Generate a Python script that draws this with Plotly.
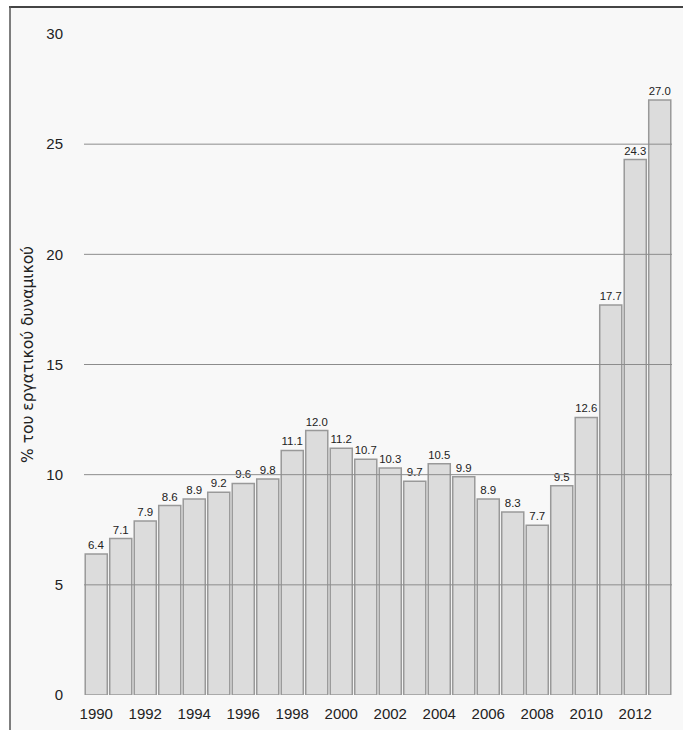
import plotly.graph_objects as go

years = list(range(1990, 2014))
values = [6.4, 7.1, 7.9, 8.6, 8.9, 9.2, 9.6, 9.8, 11.1, 12.0, 11.2, 10.7,
          10.3, 9.7, 10.5, 9.9, 8.9, 8.3, 7.7, 9.5, 12.6, 17.7, 24.3, 27.0]
labels = [f"{v:.1f}" for v in values]
x_ticks = list(range(1990, 2013, 2))
y_ticks = [0, 5, 10, 15, 20, 25, 30]
grid_values = [5, 10, 15, 20, 25]
y_title = "% του εργατικού δυναμικού"

W, H = 683, 730
L, R, T, B = 84, 11, 34, 35
pw, ph = W - L - R, H - T - B

def px_x(p):
    return (p - L) / pw

def px_y(p):
    return (H - B - p) / ph

fig = go.Figure()
fig.add_trace(go.Bar(
    x=years, y=values,
    text=labels, textposition="outside",
    textfont=dict(family="Liberation Sans, Arial, sans-serif", size=11.5, color="#222222"),
    marker=dict(color="#dcdcdc", line=dict(color="#999999", width=1.5)),
    cliponaxis=False,
    hoverinfo="x+y",
))

shapes = [
    dict(type="rect", xref="paper", yref="paper",
         x0=px_x(10), x1=px_x(700), y0=px_y(750), y1=px_y(7),
         fillcolor="#f8f8f8", line=dict(width=0), layer="below"),
    dict(type="line", xref="paper", yref="paper",
         x0=px_x(9), x1=px_x(683), y0=px_y(7), y1=px_y(7),
         line=dict(color="#444444", width=2), layer="above"),
    dict(type="line", xref="paper", yref="paper",
         x0=px_x(10), x1=px_x(10), y0=px_y(730), y1=px_y(6),
         line=dict(color="#555555", width=1.5), layer="above"),
]
for v in grid_values:
    shapes.append(dict(type="line", xref="paper", yref="y", x0=0, x1=1, y0=v, y1=v,
                       line=dict(color="#8c8c8c", width=1), layer="above"))

fig.update_layout(
    width=W, height=H,
    margin=dict(l=L, r=R, t=T, b=B, autoexpand=False),
    paper_bgcolor="white",
    plot_bgcolor="#f3f3f3",
    bargap=0.1,
    showlegend=False,
    shapes=shapes,
    font=dict(family="Liberation Sans, Arial, sans-serif", color="#222222"),
    annotations=[dict(text=y_title, textangle=-90, xref="paper", yref="paper",
                      x=px_x(28), y=px_y(355), xanchor="center", yanchor="middle",
                      showarrow=False,
                      font=dict(family="DejaVu Sans, sans-serif", size=15.5, color="#222222"))],
    xaxis=dict(
        tickmode="array", tickvals=x_ticks, ticktext=[str(t) for t in x_ticks],
        range=[1989.5, 2013.5], showgrid=False, zeroline=False, showline=False,
        ticks="", tickfont=dict(size=15, color="#222222"), ticklabelstandoff=8,
        automargin=False,
    ),
    yaxis=dict(
        range=[0, 30], tickmode="array", tickvals=y_ticks,
        showgrid=False, zeroline=False, showline=False, ticks="",
        tickfont=dict(size=15, color="#222222"), ticklabelstandoff=20,
        automargin=False,
    ),
)

fig.write_html("out.html", config={"displayModeBar": False},
               post_script="document.body.style.margin='0';document.body.style.overflow='hidden';")
